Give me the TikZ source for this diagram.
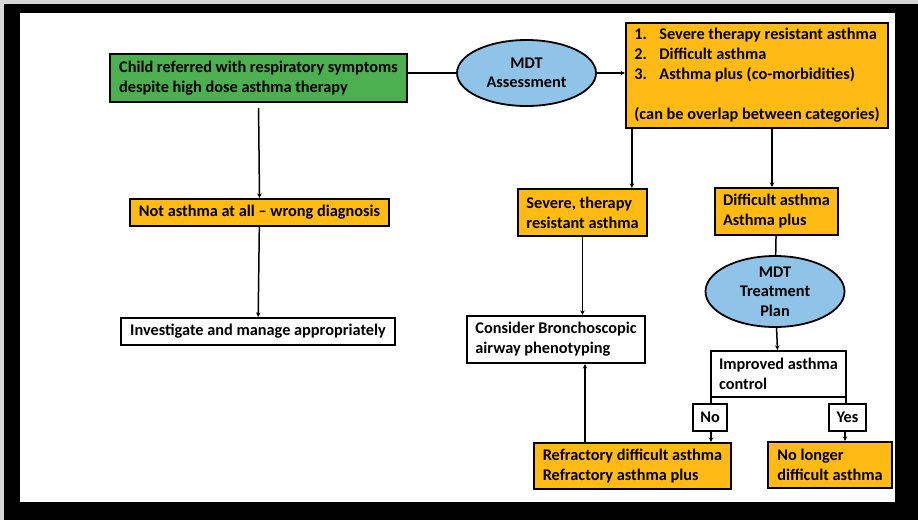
\documentclass[tikz,border=0pt]{standalone}
\usepackage{fontspec}
\setmainfont{Carlito}
\usetikzlibrary{shapes.geometric, arrows.meta, positioning, calc}
\definecolor{boxgreen}{RGB}{76,175,80}
\definecolor{boxorange}{RGB}{255,187,20}
\definecolor{mdtblue}{RGB}{143,196,232}
\definecolor{framegray}{RGB}{215,215,215}

\begin{document}
\begin{tikzpicture}[
				x=1pt, y=-1pt,
				box/.style={rectangle, draw=black, line width=2.2pt, fill=white, align=left,
					inner xsep=5pt, inner ysep=0pt, minimum height=27pt,
					font=\fontsize{16.3}{20}\selectfont\bfseries},
				obox/.style={box, fill=boxorange},
				mdt/.style={ellipse, draw=black, line width=1.8pt, fill=mdtblue, align=center,
					inner sep=0pt, minimum width=139pt, font=\fontsize{16.3}{19.5}\selectfont\bfseries},
				arrow/.style={-{Stealth[length=4.5pt, width=4.5pt]}, line width=1.5pt},
				link/.style={line width=1.5pt}
				]
				% frame
				\fill[framegray] (0,0) rectangle (918,520);
				\fill[black] (4,4) rectangle (918,520);
				\fill[white] (20,13) rectangle (895,502);

				% left column
				\node[box, fill=boxgreen, minimum width=297pt, minimum height=48pt] (child) at (258.5,78)
					{Child referred with respiratory symptoms\\despite high dose asthma therapy};
				\node[obox, minimum width=259pt] (notasthma) at (259.5,212.5) {Not asthma at all -- wrong diagnosis};
				\node[box, minimum width=274pt] (investigate) at (258,331.5) {Investigate and manage appropriately};

				% assessment
				\node[mdt, minimum height=66pt] (assess) at (526.5,73) {MDT\\Assessment};
				\node[obox, minimum width=262pt, minimum height=105pt] (cats) at (757,75.5)
					{\makebox[25pt][l]{1.}Severe therapy resistant asthma\\
					 \makebox[25pt][l]{2.}Difficult asthma\\
					 \makebox[25pt][l]{3.}Asthma plus (co-morbidities)\\[20pt]
					 (can be overlap between categories)};

				% severe branch
				\node[obox, minimum width=129pt, minimum height=47pt] (severe) at (582.5,212.5) {Severe, therapy\\resistant asthma};
				\node[box, minimum width=178pt, minimum height=47pt] (consider) at (556,339.5) {Consider Bronchoscopic\\airway phenotyping};
				\node[obox, minimum width=197pt, minimum height=46pt] (refractory) at (632.5,466) {Refractory difficult asthma\\Refractory asthma plus};

				% difficult branch
				\node[obox, minimum width=123pt, minimum height=47pt] (difficult) at (776.5,211.5) {Difficult asthma\\Asthma plus};
				\node[mdt, minimum height=71pt] (plan) at (775,291.5) {MDT\\Treatment\\Plan};
				\node[box, minimum width=135pt, minimum height=46pt] (improved) at (778.5,374) {Improved asthma\\control};
				\node[box, minimum width=34pt, inner xsep=3pt] (no) at (710,417.5) {No};
				\node[box, minimum width=37pt, inner xsep=3pt] (yes) at (847.5,417.5) {Yes};
				\node[obox, minimum width=124pt, minimum height=46pt] (nolonger) at (830,465) {No longer\\difficult asthma};

				% connectors
				\draw[link] (child.east |- assess) -- (assess.west);
				\draw[arrow] (assess.east) -- (assess.east -| cats.west);
				\draw[arrow, shorten <=5pt] (child.south) -- (notasthma.north);
				\draw[arrow] (notasthma) -- (investigate);
				\draw[arrow] ([xshift=7pt]cats.south west) -- ([xshift=7pt]cats.south west |- severe.north);
				\draw[arrow] ([xshift=-4.5pt]difficult.north |- cats.south) -- ([xshift=-4.5pt]difficult.north);
				\draw[arrow] (severe.south) -- (severe.south |- consider.north);
				\draw[arrow] ([xshift=-47.5pt]refractory.north) -- ([xshift=-47.5pt]refractory.north |- consider.south);
				\draw[link] (difficult) -- (plan);
				\draw[arrow] (plan) -- (improved);
				\draw[link] ([xshift=1pt]improved.south west) -- ([xshift=1pt]improved.south west |- no.north);
				\draw[arrow] ([xshift=1pt]no.south) -- ([xshift=1pt]no.south |- refractory.north);
				\draw[link] ([xshift=-1pt]improved.south east) -- ([xshift=-1pt]improved.south east |- yes.north);
				\draw[arrow] ([xshift=-2.5pt]yes.south) -- ([xshift=-2.5pt]yes.south |- nolonger.north);
			\end{tikzpicture}
\end{document}
